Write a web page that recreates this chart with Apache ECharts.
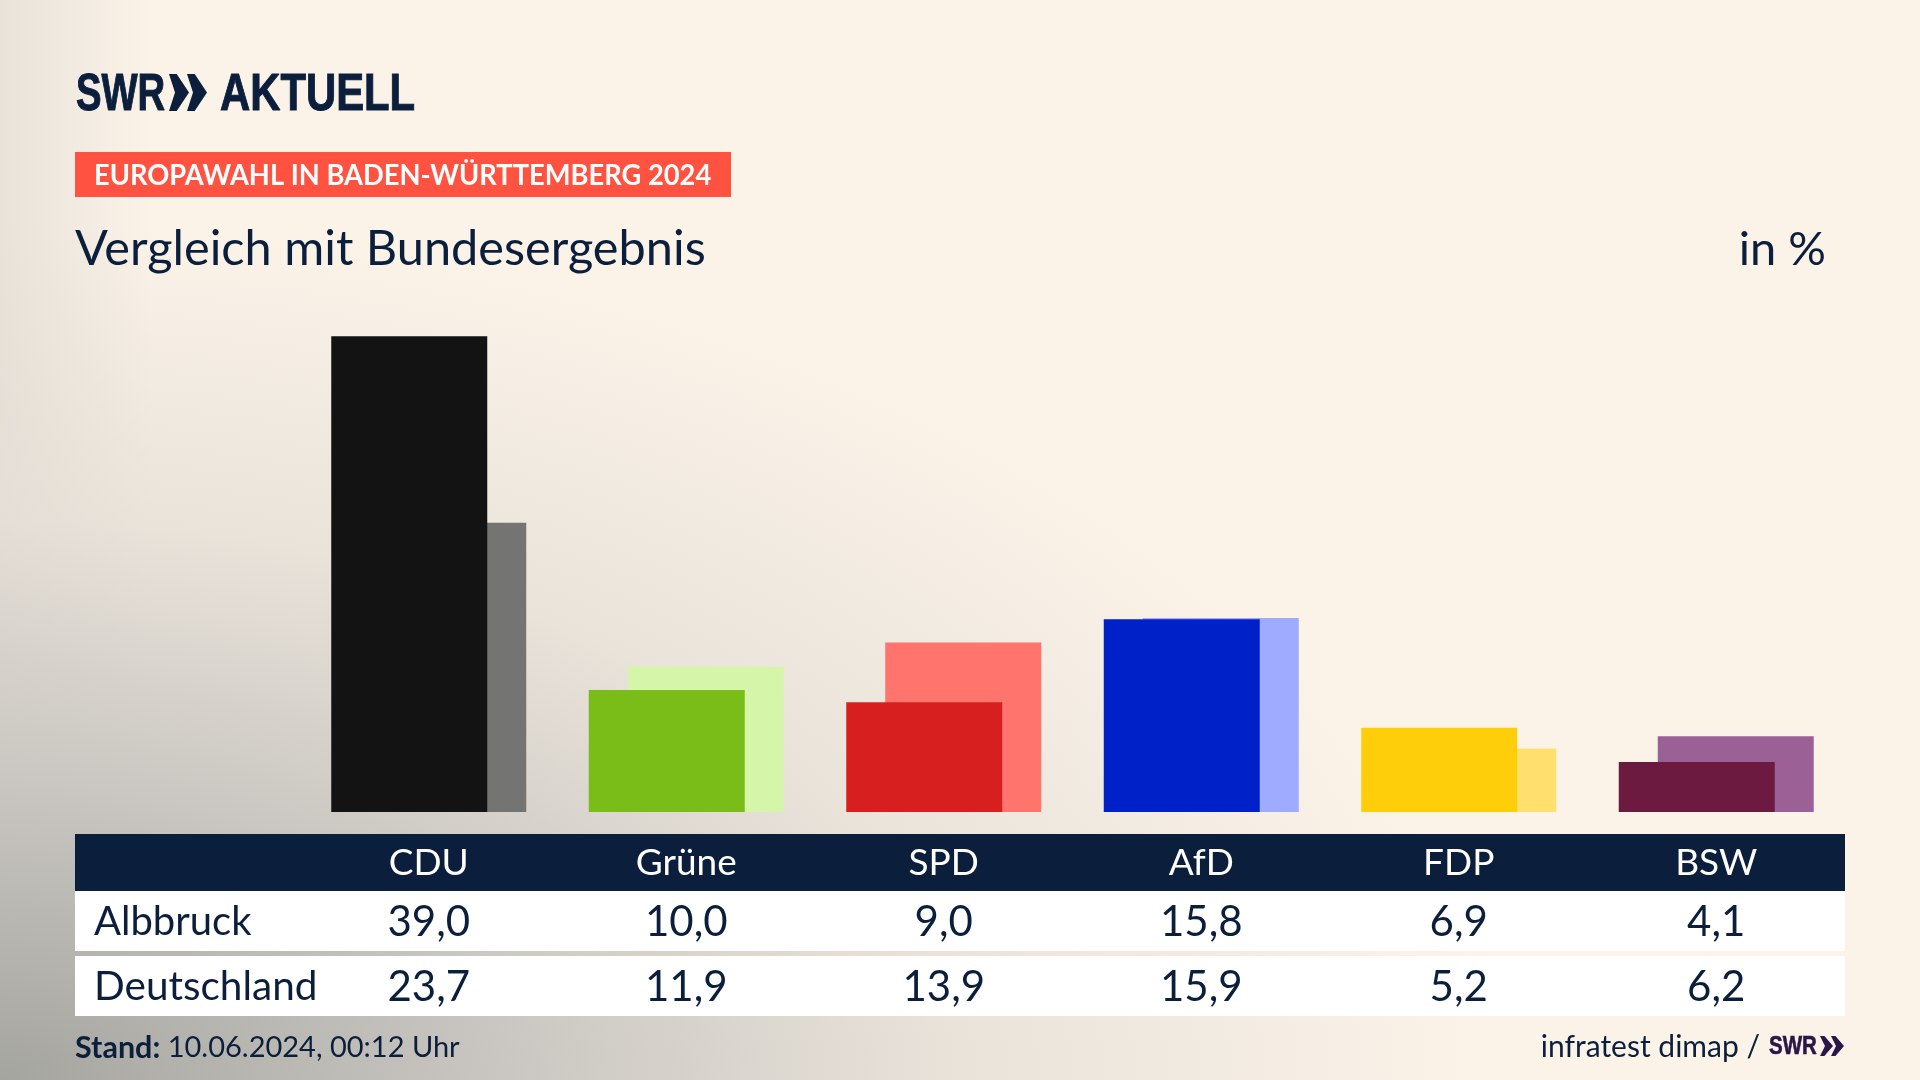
<!DOCTYPE html>
<html>
<head>
<meta charset="utf-8">
<title>Vergleich mit Bundesergebnis</title>
<script src="https://cdn.jsdelivr.net/npm/echarts@6/dist/echarts.min.js"></script>
<style>
  html, body { margin: 0; height: 100%; }
  body {
    background:
      radial-gradient(ellipse 1480px 860px at 0 100%, rgba(165,165,160,1) 0%, rgba(200,197,192,.95) 35%, rgba(226,220,212,.7) 65%, rgba(251,243,232,0) 100%),
      linear-gradient(90deg, rgba(215,210,203,.5) 0, rgba(251,243,232,0) 150px),
      #fbf3e8;
  }
  #chart { width: 1920px; height: 1080px; }
</style>
</head>
<body>
<div id="chart"></div>
<script>
const categories = ['CDU', 'Grüne', 'SPD', 'AfD', 'FDP', 'BSW'];
const albbruck = [39.0, 10.0, 9.0, 15.8, 6.9, 4.1];
const deutschland = [23.7, 11.9, 13.9, 15.9, 5.2, 6.2];
const partyColors = ['#131313', '#7abd19', '#d81f1f', '#0020c8', '#ffce0a', '#6c1a40'];
const lightColors = ['#747472', '#d5f6a9', '#ff746d', '#9eabff', '#ffe06e', '#9b6096'];

const NAVY = '#0b1f3d';
const PURPLE = '#2a1647';
const FONT = 'Lato';
const LOGO_FONT = 'Liberation Sans';

const comma = (v) => v.toFixed(1).replace('.', ',');
const styled = (values, colors) => values.map((value, i) => ({ value, itemStyle: { color: colors[i] } }));

// Kopfzeile und Tabellenzeilen sind eigene Kategorieachsen
const rowAxis = (data, margin, color, size) => ({
  type: 'category',
  data,
  position: 'bottom',
  axisLine: { show: false },
  axisTick: { show: false },
  axisLabel: {
    interval: 0,
    margin,
    color,
    fontFamily: FONT,
    fontSize: size,
    verticalAlign: 'middle',
  },
});

const rect = (x, y, width, height, fill) => ({
  type: 'rect',
  z: -10,
  shape: { x, y, width, height },
  style: { fill },
});

const label = (text, x, y, fontSize, extra, scaleX = 1) => ({
  type: 'text',
  z: 10,
  x,
  y,
  scaleX,
  style: {
    text,
    fontFamily: FONT,
    fontSize,
    fill: NAVY,
    textVerticalAlign: 'middle',
    ...extra,
  },
});

const chevron = (x, top, bottom, width, thick, fill) => {
  const mid = (top + bottom) / 2;
  return {
    type: 'polygon',
    z: 10,
    shape: {
      points: [
        [x, top],
        [x + thick * 0.55, top],
        [x + width, mid],
        [x + thick * 0.55, bottom],
        [x, bottom],
        [x + width - thick, mid],
      ],
    },
    style: { fill },
  };
};

const logoStyle = { fontWeight: 700, fontFamily: LOGO_FONT, stroke: NAVY, lineWidth: 1 };
const smallLogoStyle = { fontWeight: 700, fontFamily: LOGO_FONT, fill: PURPLE, stroke: PURPLE, lineWidth: 0.6 };

const chart = echarts.init(document.getElementById('chart'));

chart.setOption({
  animation: false,
  grid: { left: 300, right: 75, top: 324, bottom: 268 },
  xAxis: [
    rowAxis(categories, 51, '#ffffff', 37),
    rowAxis(albbruck.map(comma), 110, NAVY, 42),
    rowAxis(deutschland.map(comma), 175, NAVY, 42),
  ],
  yAxis: { type: 'value', min: 0, max: 40, show: false },
  series: [
    {
      name: 'Albbruck',
      type: 'bar',
      z: 3,
      barWidth: 156,
      barGap: '-75%',
      data: styled(albbruck, partyColors),
    },
    {
      name: 'Deutschland',
      type: 'bar',
      z: 2,
      barWidth: 156,
      data: styled(deutschland, lightColors),
    },
  ],
  graphic: [
    rect(75, 152, 656, 45, '#ff5240'),
    rect(75, 834, 1770, 57, NAVY),
    rect(75, 891, 1770, 60, '#ffffff'),
    rect(75, 956, 1770, 60, '#ffffff'),

    label('SWR', 76, 96, 51, logoStyle, 0.75),
    chevron(169, 74, 111, 20, 14, NAVY),
    chevron(187, 74, 111, 20, 14, NAVY),
    label('AKTUELL', 220, 96, 51, logoStyle, 0.82),

    label('EUROPAWAHL IN BADEN-WÜRTTEMBERG 2024', 94, 176, 28, { fontWeight: 700, fill: '#ffffff' }, 0.975),
    label('Vergleich mit Bundesergebnis', 75, 250, 48, {}, 1.014),
    label('in %', 1826, 250, 47, { textAlign: 'right' }),

    label('Albbruck', 94, 922, 40),
    label('Deutschland', 94, 987, 40.5),

    label('{b|Stand:} 10.06.2024, 00:12 Uhr', 75, 1048, 29, {
      rich: { b: { fontFamily: FONT, fontSize: 30.5, fontWeight: 700, fill: NAVY } },
    }),
    label('infratest dimap /', 1760, 1047, 30, { textAlign: 'right' }),
    label('SWR', 1769, 1047, 25, smallLogoStyle, 0.82),
    chevron(1820, 1036, 1056, 13, 8, PURPLE),
    chevron(1831, 1036, 1056, 13, 8, PURPLE),
  ],
});
</script>
</body>
</html>
